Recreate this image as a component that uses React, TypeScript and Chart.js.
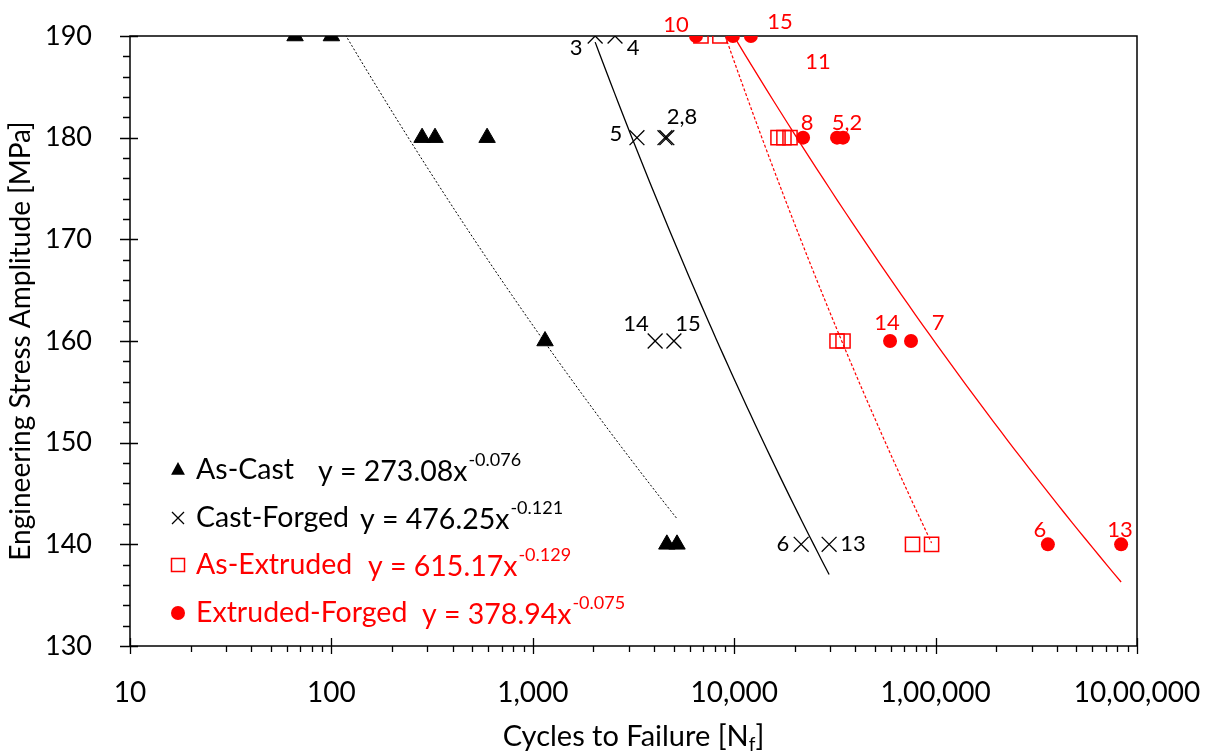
import React, { useEffect, useRef } from 'react';
import { Chart, registerables } from 'chart.js';

Chart.register(...registerables);

// ---------- data ----------
const seriesNames = ['As-Cast', 'Cast-Forged', 'As-Extruded', 'Extruded-Forged'];

const asCastX = [66, 100, 282, 327, 593, 1150, 4630, 5200];
const asCastY = [190, 190, 180, 180, 180, 160, 140, 140];

const castForgedX = [2040, 2560, 3290, 4530, 4630, 4050, 5020, 21500, 29600];
const castForgedY = [190, 190, 180, 180, 180, 160, 160, 140, 140];

const asExtrudedX = [6840, 8490, 16500, 17660, 18930, 32400, 34700, 76800, 95500];
const asExtrudedY = [190, 190, 180, 180, 180, 160, 160, 140, 140];

const extForgedX = [6460, 9860, 12100, 21980, 32400, 34700, 59400, 75500, 361000, 834000];
const extForgedY = [190, 190, 190, 180, 180, 180, 160, 160, 140, 140];

// power-law trendlines shown on the chart: y = a * x^b
const trendA = [273.08, 476.25, 615.17, 378.94];
const trendB = [-0.076, -0.121, -0.129, -0.075];
const trendEqBase = ['y = 273.08x', 'y = 476.25x', 'y = 615.17x', 'y = 378.94x'];
const trendEqExp = ['-0.076', '-0.121', '-0.129', '-0.075'];

const yMin = 130;
const yMax = 190;
const yStep = 10;
const yMinorStep = 2;
const xTickValues = [10, 100, 1000, 10000, 100000, 1000000];
const xTickLabels = ['10', '100', '1,000', '10,000', '1,00,000', '10,00,000'];

// specimen number annotations (data coordinates)
const blackLabelText = ['3', '4', '5', '2,8', '14', '15', '6', '13'];
const blackLabelX = [1639, 3145, 2589, 5506, 3253, 5898, 17470, 38890];
const blackLabelY = [188.82, 188.82, 180.36, 182.03, 161.67, 161.67, 140, 140];

const redLabelText = ['10', '15', '11', '8', '5,2', '14', '7', '6', '13'];
const redLabelX = [5140, 16880, 26070, 22990, 36320, 57370, 102800, 329900, 823300];
const redLabelY = [191.08, 191.38, 187.44, 181.44, 181.44, 161.77, 161.77, 141.41, 141.41];

const xTitleMain = 'Cycles to Failure [N';
const xTitleSub = 'f';
const xTitleEnd = ']';
const yTitle = 'Engineering Stress Amplitude [MPa]';

// ---------- helpers ----------
const FONT = 'Lato, "Open Sans", sans-serif';
const RED = '#FF0000';
const BLACK = '#000000';

function toPoints(xs: number[], ys: number[]) {
  return xs.map((x, i) => ({ x, y: ys[i] }));
}

function trendPoints(xs: number[], a: number, b: number) {
  const lo = Math.log10(Math.min(...xs));
  const hi = Math.log10(Math.max(...xs));
  const n = 60;
  const pts = [] as { x: number; y: number }[];
  for (let i = 0; i <= n; i++) {
    const x = Math.pow(10, lo + ((hi - lo) * i) / n);
    pts.push({ x, y: a * Math.pow(x, b) });
  }
  return pts;
}

function drawMarker(ctx: CanvasRenderingContext2D, kind: string, x: number, y: number) {
  ctx.save();
  if (kind === 'triangle') {
    const r = 8;
    ctx.fillStyle = BLACK;
    ctx.beginPath();
    ctx.moveTo(x, y - r);
    ctx.lineTo(x + r * 0.866, y + r * 0.6);
    ctx.lineTo(x - r * 0.866, y + r * 0.6);
    ctx.closePath();
    ctx.fill();
  } else if (kind === 'cross') {
    const s = 6;
    ctx.strokeStyle = BLACK;
    ctx.lineWidth = 1.3;
    ctx.beginPath();
    ctx.moveTo(x - s, y - s);
    ctx.lineTo(x + s, y + s);
    ctx.moveTo(x + s, y - s);
    ctx.lineTo(x - s, y + s);
    ctx.stroke();
  } else if (kind === 'square') {
    const s = 6.5;
    ctx.strokeStyle = RED;
    ctx.lineWidth = 1.5;
    ctx.strokeRect(x - s, y - s, 2 * s, 2 * s);
  } else {
    ctx.fillStyle = RED;
    ctx.beginPath();
    ctx.arc(x, y, 7, 0, Math.PI * 2);
    ctx.fill();
  }
  ctx.restore();
}

const frameAndTicks = {
  id: 'frameAndTicks',
  beforeDatasetsDraw(chart: any) {
    const { ctx, chartArea: a, scales } = chart;
    const xs = scales.x;
    const ys = scales.y;
    ctx.save();
    ctx.strokeStyle = BLACK;
    ctx.lineWidth = 1.5;
    ctx.strokeRect(a.left, a.top, a.right - a.left, a.bottom - a.top);
    ctx.lineWidth = 1.3;
    ctx.beginPath();
    for (let v = yMin; v <= yMax + 1e-9; v += yMinorStep) {
      const py = Math.round(ys.getPixelForValue(v)) + 0.5;
      const major = Math.abs(v % yStep) < 1e-9;
      ctx.moveTo(a.left - (major ? 10 : 7), py);
      ctx.lineTo(a.left + (major ? 8 : 0), py);
    }
    for (let d = 0; d < xTickValues.length; d++) {
      const base = xTickValues[d];
      for (let m = 1; m <= 9; m++) {
        const v = base * m;
        if (v > xTickValues[xTickValues.length - 1]) break;
        const px = Math.round(xs.getPixelForValue(v)) + 0.5;
        const major = m === 1;
        ctx.moveTo(px, a.bottom - (major ? 8 : 0));
        ctx.lineTo(px, a.bottom + (major ? 8 : 6));
      }
    }
    ctx.stroke();
    ctx.restore();
  },
  afterDatasetsDraw(chart: any) {
    const { ctx, chartArea: a, scales } = chart;
    const xs = scales.x;
    const ys = scales.y;
    ctx.save();
    // specimen labels
    ctx.font = `22px ${FONT}`;
    ctx.textAlign = 'center';
    ctx.textBaseline = 'middle';
    ctx.fillStyle = BLACK;
    blackLabelText.forEach((t, i) => {
      ctx.fillText(t, xs.getPixelForValue(blackLabelX[i]), ys.getPixelForValue(blackLabelY[i]));
    });
    ctx.fillStyle = RED;
    redLabelText.forEach((t, i) => {
      ctx.fillText(t, xs.getPixelForValue(redLabelX[i]), ys.getPixelForValue(redLabelY[i]));
    });

    // legend with trendline equations
    const rowsY = [470, 518, 565, 613];
    const eqX = [318, 360, 368, 422];
    const kinds = ['triangle', 'cross', 'square', 'circle'];
    const colors = [BLACK, BLACK, RED, RED];
    ctx.textAlign = 'left';
    seriesNames.forEach((name, i) => {
      const ry = rowsY[i];
      drawMarker(ctx, kinds[i], a.left + 48, ry);
      ctx.fillStyle = colors[i];
      ctx.font = `28.5px ${FONT}`;
      ctx.textBaseline = 'middle';
      ctx.fillText(name, a.left + 66, ry);
      const nameEnd = a.left + 66 + ctx.measureText(name).width;
      const ex = Math.max(eqX[i], nameEnd + 8);
      ctx.fillText(trendEqBase[i], ex, ry + 2);
      const w = ctx.measureText(trendEqBase[i]).width;
      ctx.font = `18px ${FONT}`;
      ctx.fillText(trendEqExp[i], ex + w + 1, ry - 10);
    });

    // axis titles
    ctx.fillStyle = BLACK;
    const bigX = `29px ${FONT}`;
    const subX = `19px ${FONT}`;
    ctx.font = bigX;
    ctx.textBaseline = 'middle';
    const cx = (a.left + a.right) / 2;
    const w1 = ctx.measureText(xTitleMain).width;
    const w3 = ctx.measureText(xTitleEnd).width;
    ctx.font = subX;
    const w2 = ctx.measureText(xTitleSub).width;
    const total = w1 + w2 + w3;
    let tx = cx - total / 2;
    const ty = 737;
    ctx.font = bigX;
    ctx.fillText(xTitleMain, tx, ty);
    tx += w1;
    ctx.font = subX;
    ctx.fillText(xTitleSub, tx, ty + 8);
    tx += w2;
    ctx.font = bigX;
    ctx.fillText(xTitleEnd, tx, ty);

    ctx.save();
    ctx.font = `28px ${FONT}`;
    ctx.translate(21, 341);
    ctx.rotate(-Math.PI / 2);
    ctx.textAlign = 'center';
    ctx.fillText(yTitle, 0, 0);
    ctx.restore();
    ctx.restore();
  },
};

export default function App() {
  const ref = useRef<HTMLCanvasElement | null>(null);

  useEffect(() => {
    document.body.style.margin = '0';
    const canvas = ref.current;
    if (!canvas) return;

    const chart = new Chart(canvas, {
      type: 'scatter',
      data: {
        datasets: [
          {
            label: seriesNames[0] + ' trend',
            data: trendPoints(asCastX, trendA[0], trendB[0]),
            showLine: true,
            pointRadius: 0,
            borderColor: BLACK,
            borderWidth: 1,
            borderDash: [2, 2],
          },
          {
            label: seriesNames[1] + ' trend',
            data: trendPoints(castForgedX, trendA[1], trendB[1]),
            showLine: true,
            pointRadius: 0,
            borderColor: BLACK,
            borderWidth: 1.3,
          },
          {
            label: seriesNames[2] + ' trend',
            data: trendPoints(asExtrudedX, trendA[2], trendB[2]),
            showLine: true,
            pointRadius: 0,
            borderColor: RED,
            borderWidth: 1.2,
            borderDash: [3, 2],
          },
          {
            label: seriesNames[3] + ' trend',
            data: trendPoints(extForgedX, trendA[3], trendB[3]),
            showLine: true,
            pointRadius: 0,
            borderColor: RED,
            borderWidth: 1.3,
          },
          {
            label: seriesNames[0],
            data: toPoints(asCastX, asCastY),
            pointStyle: 'triangle',
            pointRadius: 9.5,
            backgroundColor: BLACK,
            borderColor: BLACK,
            borderWidth: 1,
          },
          {
            label: seriesNames[1],
            data: toPoints(castForgedX, castForgedY),
            pointStyle: 'crossRot',
            pointRadius: 10.5,
            backgroundColor: BLACK,
            borderColor: BLACK,
            borderWidth: 1.3,
          },
          {
            label: seriesNames[2],
            data: toPoints(asExtrudedX, asExtrudedY),
            pointStyle: 'rect',
            pointRadius: 10,
            backgroundColor: 'rgba(0,0,0,0)',
            borderColor: RED,
            borderWidth: 1.5,
          },
          {
            label: seriesNames[3],
            data: toPoints(extForgedX, extForgedY),
            pointStyle: 'circle',
            pointRadius: 7,
            backgroundColor: RED,
            borderColor: RED,
            borderWidth: 0,
          },
        ],
      },
      options: {
        animation: false,
        responsive: false,
        maintainAspectRatio: false,
        layout: { padding: { top: 36, right: 75, left: 0, bottom: 0 } },
        plugins: {
          legend: { display: false },
          tooltip: { enabled: false },
          title: { display: false },
        },
        scales: {
          x: {
            type: 'logarithmic',
            min: xTickValues[0],
            max: xTickValues[xTickValues.length - 1],
            afterBuildTicks: (s: any) => {
              s.ticks = xTickValues.map((v) => ({ value: v, major: true }));
            },
            afterFit: (s: any) => {
              s.height = 107;
              s.paddingLeft = 0;
              s.paddingRight = 0;
            },
            ticks: {
              autoSkip: false,
              maxRotation: 0,
              padding: 22,
              color: BLACK,
              font: { family: FONT, size: 28 },
              callback: (_v: any, i: number) => xTickLabels[i],
            },
            grid: { display: false },
            border: { display: false },
          },
          y: {
            type: 'linear',
            min: yMin,
            max: yMax,
            afterFit: (s: any) => {
              s.width = 130;
              s.paddingTop = 0;
              s.paddingBottom = 0;
            },
            ticks: {
              stepSize: yStep,
              padding: 30,
              color: BLACK,
              font: { family: FONT, size: 27 },
            },
            grid: { display: false },
            border: { display: false },
          },
        },
      } as any,
      plugins: [frameAndTicks],
    });

    return () => chart.destroy();
  }, []);

  return (
    <div style={{ width: 1212, height: 753 }}>
      <canvas ref={ref} width={1212} height={753} style={{ display: 'block', width: 1212, height: 753 }} />
    </div>
  );
}
